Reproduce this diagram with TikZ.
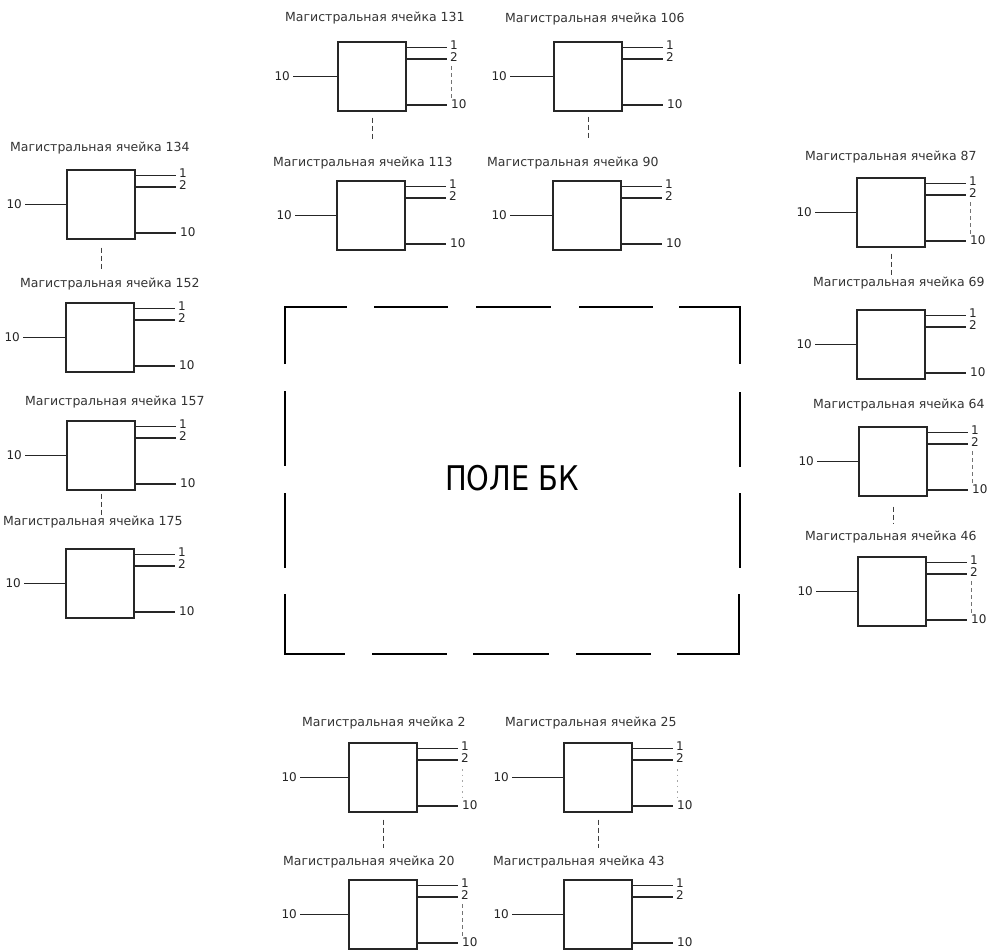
\documentclass[tikz,border=0pt]{standalone}
\usepackage{fontspec}
\setmainfont{DejaVu Sans}
\newfontfamily\titlefont[FakeStretch=0.85]{DejaVu Sans}
\usetikzlibrary{calc}
\tikzset{
 cellbox/.style={draw=black!85, line width=1.2pt, minimum width=68pt, minimum height=69pt, inner sep=0pt},
 wire/.style={draw=black!85, line width=1.1pt},
 celllabel/.style={anchor=west, inner sep=0pt, font=\fontsize{12.5}{14}\selectfont, text=black!80},
 numlab/.style={inner sep=0pt, font=\fontsize{12}{13}\selectfont, text=black!85},
 gapline/.style={draw=black!55, line width=0.8pt, dash pattern=on 4pt off 3pt},
 faintline/.style={draw=black!35, line width=0.8pt, dash pattern=on 1.5pt off 4pt},
 linkdash/.style={draw=black!75, line width=1pt, dash pattern=on 5pt off 3pt},
 field/.style={draw=black, line width=2.2pt},
}
% #1 name, #2 box left, #3 box top, #4 number, #5 label x, #6 label y, #7 left wire length
\newcommand\mcell[7]{%
 \node[cellbox] (b#1) at (#2+34,#3+34.5) {};
 \node[celllabel] (t#1) at (#5,#6) {Магистральная ячейка #4};
 \coordinate (i#1) at (#2-#7,#3+34.5);
 \coordinate (ra#1) at (#2+68,#3+5.5);
 \coordinate (rb#1) at (#2+68,#3+17);
 \coordinate (rc#1) at (#2+68,#3+63);
 \coordinate (oa#1) at (#2+109,#3+5.5);
 \coordinate (ob#1) at (#2+109,#3+17);
 \coordinate (oc#1) at (#2+109,#3+63);
 \draw[wire] (b#1.west) -- (i#1);
 \draw[wire] (ra#1) -- (oa#1);
 \draw[wire] (rb#1) -- (ob#1);
 \draw[wire] (rc#1) -- (oc#1);
 \node[numlab, anchor=east] (n0#1) at ($(i#1)+(-3,0)$) {10};
 \node[numlab, anchor=west] (na#1) at ($(oa#1)+(3,-2.5)$) {1};
 \node[numlab, anchor=west] (nb#1) at ($(ob#1)+(3,-1.5)$) {2};
 \node[numlab, anchor=west] (nc#1) at ($(oc#1)+(4,-0.5)$) {10};
}
\newcommand\gapdash[1]{\draw[gapline] ($(ob#1)+(4,7)$) -- ($(oc#1)+(4,-7)$);}
\newcommand\faintdash[1]{\draw[faintline] ($(ob#1)+(4,9)$) -- ($(oc#1)+(4,-9)$);}
\newcommand\linkdash[3]{\draw[linkdash] ($(b#1.south)+(0,#2)$) -- ($(b#1.south)+(0,#2+#3)$);}
\begin{document}
\begin{tikzpicture}[x=1pt,y=-1pt]
\useasboundingbox (0,0) rectangle (998,950);
% top row
\mcell{131}{338}{42}{131}{285}{18}{45}
\mcell{106}{554}{42}{106}{505}{19}{44}
\mcell{113}{337}{181}{113}{273}{163}{42}
\mcell{90}{553}{181}{90}{487}{163}{43}
% left column
\mcell{134}{67}{170}{134}{10}{148}{42}
\mcell{152}{66}{303}{152}{20}{284}{43}
\mcell{157}{67}{421}{157}{25}{402}{42}
\mcell{175}{66}{549}{175}{3}{522}{42}
% right column
\mcell{87}{857}{178}{87}{805}{157}{42}
\mcell{69}{857}{310}{69}{813}{283}{42}
\mcell{64}{859}{427}{64}{813}{405}{42}
\mcell{46}{858}{557}{46}{805}{537}{42}
% bottom row
\mcell{2}{349}{743}{2}{302}{723}{49}
\mcell{20}{349}{880}{20}{283}{862}{49}
\mcell{25}{564}{743}{25}{505}{723}{52}
\mcell{43}{564}{880}{43}{493}{862}{52}
% dashed lines between outputs 2 and 10
\gapdash{131}
\gapdash{87}
\gapdash{64}
\gapdash{46}
\gapdash{20}
\faintdash{25}
\faintdash{2}
% continuation dashes between cells
\linkdash{131}{6}{23}
\linkdash{106}{5}{22}
\linkdash{134}{8}{21}
\linkdash{87}{6}{24}
\linkdash{64}{10}{17}
\linkdash{157}{3}{24}
\linkdash{2}{7}{28}
\linkdash{25}{7}{28}
% central field
\draw[field] (285,364) -- (285,307) -- (347,307);
\draw[field] (374,307) -- (448,307);
\draw[field] (476,307) -- (551,307);
\draw[field] (579,307) -- (653,307);
\draw[field] (679,307) -- (740,307) -- (740,364);
\draw[field] (285,391) -- (285,466);
\draw[field] (285,493) -- (285,568);
\draw[field] (740,392) -- (740,467);
\draw[field] (740,493) -- (740,568);
\draw[field] (285,594) -- (285,654) -- (345,654);
\draw[field] (372,654) -- (447,654);
\draw[field] (473,654) -- (549,654);
\draw[field] (576,654) -- (651,654);
\draw[field] (677,654) -- (739,654) -- (739,594);
\node[font=\titlefont\fontsize{34}{40}\selectfont] (title) at (512,478) {ПОЛЕ БК};
\end{tikzpicture}
\end{document}
